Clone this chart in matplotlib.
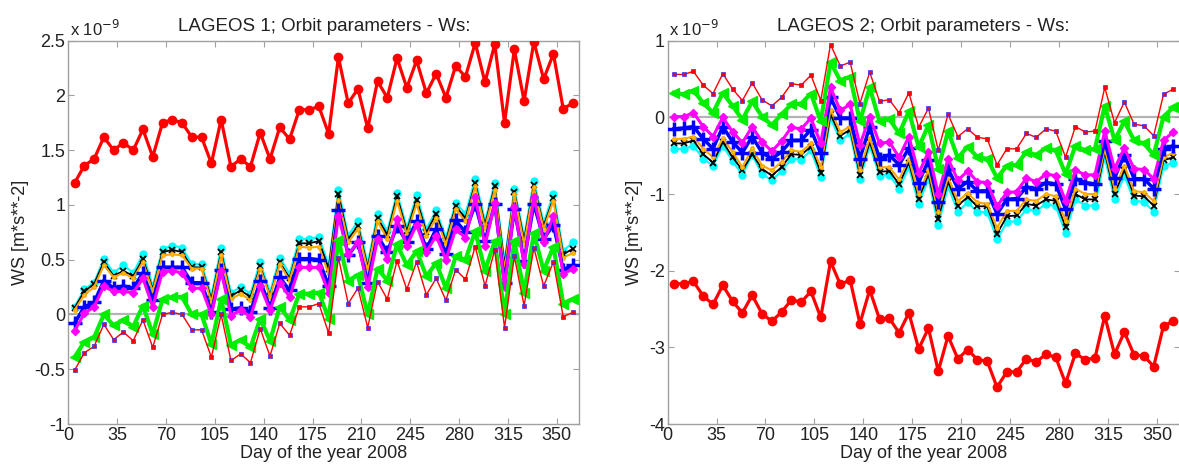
import numpy as np
import matplotlib
matplotlib.use("Agg")
import matplotlib.pyplot as plt

plt.rcParams['font.family'] = ['Liberation Sans', 'DejaVu Sans']
plt.rcParams['axes.unicode_minus'] = False

# weekly solutions, day of year 2008
days = [4.5, 11.5, 18.5, 25.5, 32.5, 39.5, 46.5, 53.5, 60.5, 67.5, 74.5, 81.5, 88.5,
        95.5, 102.5, 109.5, 116.5, 123.5, 130.5, 137.5, 144.5, 151.5, 158.5, 165.5,
        172.5, 179.5, 186.5, 193.5, 200.5, 207.5, 214.5, 221.5, 228.5, 235.5, 242.5,
        249.5, 256.5, 263.5, 270.5, 277.5, 284.5, 291.5, 298.5, 305.5, 312.5, 319.5,
        326.5, 333.5, 340.5, 347.5, 354.5, 361.5]

# LAGEOS 1 (units of 1e-9 m/s^2)
l1_thick = [1.20, 1.36, 1.42, 1.62, 1.50, 1.57, 1.50, 1.69, 1.44, 1.75,
            1.78, 1.75, 1.62, 1.62, 1.38, 1.78, 1.35, 1.42, 1.35, 1.66,
            1.42, 1.71, 1.60, 1.87, 1.87, 1.90, 1.65, 2.35, 1.93, 2.06,
            1.70, 2.13, 1.98, 2.34, 2.07, 2.32, 2.02, 2.20, 1.98, 2.27,
            2.17, 2.48, 2.12, 2.47, 1.75, 2.42, 1.95, 2.49, 2.15, 2.38,
            1.88, 1.93]
l1_red = [-0.51, -0.35, -0.29, -0.09, -0.23, -0.16, -0.24, -0.05, -0.30, 0.00,
          0.02, 0.00, -0.14, -0.14, -0.39, 0.00, -0.42, -0.36, -0.44, -0.13,
          -0.38, -0.08, -0.19, 0.07, 0.07, 0.10, -0.17, 0.52, 0.10, 0.24,
          -0.12, 0.30, 0.14, 0.49, 0.23, 0.48, 0.18, 0.33, 0.13, 0.41,
          0.32, 0.62, 0.26, 0.59, -0.12, 0.53, 0.08, 0.61, 0.26, 0.48,
          -0.02, 0.02]
l1_green = [-0.39, -0.25, -0.21, 0.00, -0.10, -0.05, -0.11, 0.08, -0.18, 0.14,
            0.16, 0.16, 0.00, 0.00, -0.27, 0.14, -0.28, -0.23, -0.30, -0.04,
            -0.24, 0.07, -0.05, 0.19, 0.19, 0.20, -0.04, 0.68, 0.31, 0.36,
            0.00, 0.42, 0.31, 0.64, 0.45, 0.58, 0.35, 0.47, 0.24, 0.53,
            0.50, 0.76, 0.40, 0.67, 0.00, 0.67, 0.20, 0.74, 0.40, 0.62,
            0.10, 0.14]
l1_mag = [-0.15, 0.01, 0.07, 0.26, 0.21, 0.21, 0.20, 0.33, 0.07, 0.39,
          0.40, 0.38, 0.24, 0.24, 0.00, 0.40, -0.01, 0.04, -0.02, 0.26,
          0.04, 0.29, 0.16, 0.43, 0.43, 0.43, 0.20, 0.90, 0.55, 0.66,
          0.25, 0.69, 0.51, 0.87, 0.63, 0.82, 0.57, 0.72, 0.50, 0.78,
          0.70, 1.07, 0.63, 1.02, 0.25, 0.98, 0.46, 1.07, 0.66, 0.90,
          0.37, 0.42]
l1_blue = [-0.08, 0.07, 0.11, 0.31, 0.24, 0.26, 0.24, 0.38, 0.13, 0.43,
           0.43, 0.43, 0.29, 0.29, 0.02, 0.41, 0.05, 0.06, 0.02, 0.31,
           0.06, 0.34, 0.22, 0.51, 0.51, 0.50, 0.26, 0.95, 0.54, 0.66,
           0.29, 0.72, 0.57, 0.81, 0.66, 0.85, 0.60, 0.78, 0.55, 0.86,
           0.75, 1.01, 0.67, 1.01, 0.29, 0.96, 0.49, 1.01, 0.69, 0.82,
           0.41, 0.45]
l1_orange = [0.04, 0.18, 0.25, 0.45, 0.34, 0.38, 0.33, 0.48, 0.21, 0.54,
             0.55, 0.54, 0.42, 0.42, 0.11, 0.54, 0.14, 0.19, 0.13, 0.42,
             0.16, 0.46, 0.31, 0.62, 0.61, 0.62, 0.37, 1.05, 0.66, 0.78,
             0.40, 0.85, 0.69, 1.04, 0.73, 1.01, 0.72, 0.88, 0.64, 0.96,
             0.85, 1.17, 0.79, 1.14, 0.40, 1.10, 0.64, 1.16, 0.78, 1.04,
             0.52, 0.56]
l1_black = [0.06, 0.21, 0.28, 0.48, 0.35, 0.40, 0.35, 0.51, 0.23, 0.57,
            0.59, 0.57, 0.43, 0.43, 0.14, 0.57, 0.17, 0.22, 0.16, 0.44,
            0.17, 0.48, 0.33, 0.65, 0.65, 0.67, 0.42, 1.10, 0.69, 0.81,
            0.43, 0.88, 0.73, 1.08, 0.76, 1.05, 0.75, 0.92, 0.67, 0.99,
            0.88, 1.20, 0.82, 1.17, 0.45, 1.12, 0.68, 1.18, 0.81, 1.06,
            0.55, 0.60]
l1_cyan = [0.07, 0.23, 0.29, 0.51, 0.38, 0.45, 0.38, 0.55, 0.26, 0.60,
           0.63, 0.61, 0.46, 0.46, 0.17, 0.61, 0.20, 0.25, 0.19, 0.48,
           0.20, 0.52, 0.37, 0.69, 0.69, 0.71, 0.45, 1.14, 0.72, 0.85,
           0.46, 0.92, 0.76, 1.11, 0.79, 1.09, 0.78, 0.95, 0.70, 1.02,
           0.92, 1.24, 0.85, 1.20, 0.48, 1.15, 0.71, 1.22, 0.84, 1.10,
           0.58, 0.66]

# LAGEOS 2
l2_thick = [-2.17, -2.17, -2.14, -2.33, -2.44, -2.19, -2.40, -2.55, -2.32, -2.56,
            -2.66, -2.54, -2.38, -2.41, -2.27, -2.61, -1.88, -2.18, -2.12, -2.69,
            -2.25, -2.63, -2.62, -2.81, -2.55, -3.02, -2.75, -3.31, -2.85, -3.15,
            -3.03, -3.16, -3.18, -3.52, -3.32, -3.32, -3.15, -3.19, -3.09, -3.13,
            -3.47, -3.08, -3.16, -3.14, -2.59, -3.09, -2.80, -3.10, -3.11, -3.25,
            -2.72, -2.66]
l2_red = [0.56, 0.56, 0.60, 0.42, 0.31, 0.57, 0.37, 0.22, 0.45, 0.23,
          0.15, 0.26, 0.44, 0.42, 0.55, 0.22, 0.95, 0.67, 0.72, 0.18,
          0.59, 0.21, 0.23, 0.06, 0.32, -0.13, 0.12, -0.43, 0.04, -0.25,
          -0.15, -0.26, -0.28, -0.62, -0.41, -0.41, -0.21, -0.26, -0.15, -0.18,
          -0.52, -0.12, -0.19, -0.18, 0.39, -0.07, 0.20, -0.09, -0.11, -0.24,
          0.30, 0.37]
l2_green = [0.32, 0.30, 0.35, 0.19, 0.06, 0.32, 0.15, -0.03, 0.21, 0.01,
            -0.10, 0.04, 0.17, 0.18, 0.31, -0.05, 0.72, 0.48, 0.53, -0.05,
            0.39, -0.05, -0.02, -0.21, 0.08, -0.39, -0.10, -0.67, -0.18, -0.53,
            -0.38, -0.52, -0.54, -0.79, -0.63, -0.62, -0.45, -0.49, -0.40, -0.43,
            -0.74, -0.37, -0.43, -0.41, 0.15, -0.30, -0.05, -0.30, -0.34, -0.49,
            0.01, 0.13]
l2_mag = [0.01, 0.01, 0.06, -0.12, -0.25, 0.00, -0.19, -0.33, -0.12, -0.32,
          -0.44, -0.31, -0.13, -0.15, -0.01, -0.34, 0.39, 0.09, 0.17, -0.36,
          0.01, -0.34, -0.32, -0.52, -0.25, -0.73, -0.45, -1.00, -0.54, -0.82,
          -0.70, -0.84, -0.85, -1.16, -0.98, -0.97, -0.79, -0.84, -0.74, -0.76,
          -1.09, -0.69, -0.75, -0.75, -0.18, -0.67, -0.40, -0.67, -0.68, -0.80,
          -0.30, -0.19]
l2_blue = [-0.15, -0.14, -0.12, -0.28, -0.41, -0.12, -0.32, -0.46, -0.25, -0.46,
           -0.54, -0.45, -0.30, -0.30, -0.16, -0.47, 0.26, -0.01, -0.01, -0.54,
           -0.12, -0.54, -0.49, -0.62, -0.40, -0.85, -0.56, -1.11, -0.67, -0.93,
           -0.84, -0.96, -0.96, -1.26, -1.07, -1.06, -0.91, -0.93, -0.85, -0.87,
           -1.20, -0.80, -0.85, -0.87, -0.31, -0.79, -0.49, -0.80, -0.80, -0.93,
           -0.41, -0.37]
l2_orange = [-0.28, -0.28, -0.25, -0.41, -0.52, -0.27, -0.45, -0.65, -0.40, -0.63,
             -0.69, -0.58, -0.43, -0.45, -0.34, -0.65, 0.10, -0.19, -0.12, -0.69,
             -0.27, -0.65, -0.65, -0.81, -0.54, -1.00, -0.69, -1.24, -0.78, -1.09,
             -0.99, -1.11, -1.13, -1.44, -1.22, -1.22, -1.07, -1.09, -1.00, -1.03,
             -1.35, -0.93, -1.00, -1.00, -0.41, -0.93, -0.63, -0.96, -0.98, -1.09,
             -0.52, -0.46]
l2_black = [-0.34, -0.34, -0.30, -0.48, -0.59, -0.32, -0.52, -0.69, -0.48, -0.67,
            -0.76, -0.65, -0.48, -0.49, -0.38, -0.72, 0.04, -0.24, -0.16, -0.75,
            -0.32, -0.71, -0.70, -0.87, -0.59, -1.06, -0.74, -1.32, -0.84, -1.15,
            -1.04, -1.16, -1.16, -1.52, -1.29, -1.28, -1.13, -1.15, -1.07, -1.09,
            -1.43, -1.00, -1.07, -1.07, -0.45, -1.00, -0.69, -1.02, -1.03, -1.15,
            -0.56, -0.52]
l2_cyan = [-0.41, -0.41, -0.37, -0.54, -0.63, -0.37, -0.57, -0.75, -0.49, -0.74,
           -0.82, -0.70, -0.54, -0.55, -0.43, -0.78, -0.01, -0.30, -0.21, -0.81,
           -0.37, -0.76, -0.75, -0.93, -0.65, -1.13, -0.80, -1.41, -0.90, -1.23,
           -1.11, -1.23, -1.24, -1.59, -1.37, -1.35, -1.20, -1.22, -1.13, -1.16,
           -1.51, -1.07, -1.15, -1.15, -0.52, -1.07, -0.76, -1.09, -1.10, -1.23,
           -0.63, -0.59]

x_ticks = [0, 35, 70, 105, 140, 175, 210, 245, 280, 315, 350]
spine_grey = '#a0a0a0'


def draw_panel(ax, title, thick, red, green, mag, blue, orange, black, cyan, ylim, yticks):
    ax.axhline(0, color='#b4b4b4', lw=1.6, zorder=1)
    ax.plot(days, cyan, color='cyan', lw=1.5, marker='o', ms=5, mec='cyan', zorder=2)
    ax.plot(days, black, color='black', lw=1.3, marker='x', ms=5, mew=1.3, zorder=3)
    ax.plot(days, orange, color='#ffa500', lw=1.5, marker='.', ms=5, mfc='#ffd000', zorder=3)
    ax.plot(days, blue, color='blue', lw=2.5, marker='+', ms=10, mew=2.5, zorder=4)
    ax.plot(days, mag, color='magenta', lw=2.2, marker='D', ms=4, zorder=4)
    ax.plot(days, green, color='#00ee00', lw=3, marker='<', ms=7, zorder=5)
    ax.plot(days, red, color='red', lw=1, marker='s', ms=3.5, mfc='red', mec='#3030ff', mew=0.5, zorder=6)
    ax.plot(days, thick, color='red', lw=2.3, marker='o', ms=6, zorder=6)

    ax.set_xlim(0, 366)
    ax.set_ylim(*ylim)
    ax.set_xticks(x_ticks)
    ax.set_xticklabels([str(t) for t in x_ticks], fontsize=13)
    ax.set_yticks(yticks)
    ax.set_yticklabels(['%g' % t for t in yticks], fontsize=13)
    ax.tick_params(direction='in', top=True, right=True, length=4,
                   color=spine_grey, labelcolor='#222222', pad=2)
    for s in ax.spines.values():
        s.set_color(spine_grey)
        s.set_linewidth(1.0)
    ax.set_title(title, fontsize=13.5, color='#222222', pad=7)
    ax.set_xlabel('Day of the year 2008', fontsize=13, color='#222222', labelpad=1)
    ax.set_ylabel('WS [m*s**-2]', fontsize=13, color='#222222', labelpad=4)
    ax.text(0.003, 1.005, r'x 10$^{-9}$', transform=ax.transAxes, fontsize=12,
            color='#222222', ha='left', va='bottom')


fig = plt.figure(figsize=(11.79, 4.68), dpi=100)
ax1 = fig.add_axes([0.0579, 0.094, 0.4334, 0.819])
ax2 = fig.add_axes([0.5662, 0.094, 0.4343, 0.819])

draw_panel(ax1, 'LAGEOS 1; Orbit parameters - Ws:', l1_thick, l1_red, l1_green, l1_mag,
           l1_blue, l1_orange, l1_black, l1_cyan, (-1, 2.5),
           [-1, -0.5, 0, 0.5, 1, 1.5, 2, 2.5])
draw_panel(ax2, 'LAGEOS 2; Orbit parameters - Ws:', l2_thick, l2_red, l2_green, l2_mag,
           l2_blue, l2_orange, l2_black, l2_cyan, (-4, 1),
           [-4, -3, -2, -1, 0, 1])

fig.savefig('out.png', dpi=100)
